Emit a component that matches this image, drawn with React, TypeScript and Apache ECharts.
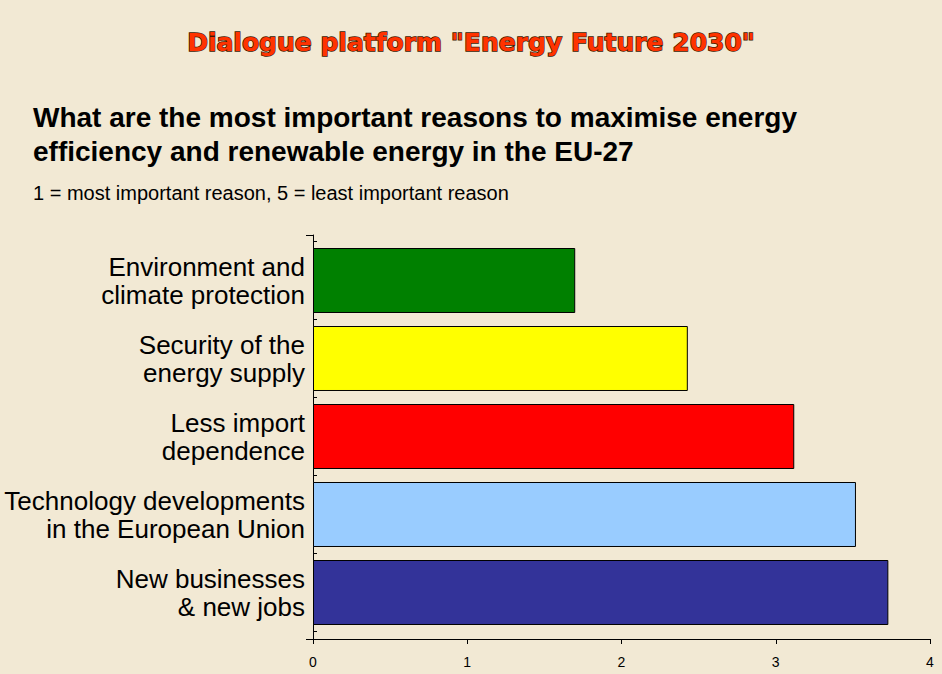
import React, { useEffect, useRef } from "react";
import * as echarts from "echarts";

const categories = [
  "Environment and\nclimate protection",
  "Security of the\nenergy supply",
  "Less import\ndependence",
  "Technology developments\nin the European Union",
  "New businesses\n& new jobs",
];
const values = [1.7, 2.43, 3.12, 3.52, 3.73];
const barColors = ["#008000", "#FFFF00", "#FF0000", "#99CCFF", "#333399"];
const headerText = 'Dialogue platform "Energy Future 2030"';
const titleText =
  "What are the most important reasons to maximise energy\nefficiency and renewable energy in the EU-27";
const noteText = "1 = most important reason, 5 = least important reason";

export default function App() {
  const ref = useRef<HTMLDivElement>(null);
  useEffect(() => {
    document.body.style.margin = "0";
    const chart = echarts.init(ref.current!, undefined, { renderer: "svg" });
    const font = "'Liberation Sans', Arial, sans-serif";
    chart.setOption({
      animation: false,
      backgroundColor: "#F2E9D4",
      textStyle: { fontFamily: font },
      title: [
        {
          text: headerText,
          left: "center",
          top: 25,
          textStyle: {
            fontFamily: "'DejaVu Sans', sans-serif",
            fontSize: 25,
            fontWeight: "bold",
            color: "#FF3300",
            textBorderColor: "#3a1800",
            textBorderWidth: 1.4,
          },
        },
        {
          text: titleText,
          left: 28,
          top: 95,
          textStyle: {
            fontFamily: font,
            fontSize: 28,
            fontWeight: "bold",
            color: "#000",
            lineHeight: 34,
          },
        },
        {
          text: noteText,
          left: 28,
          top: 178,
          textStyle: {
            fontFamily: font,
            fontSize: 20,
            fontWeight: "normal",
            color: "#000",
          },
        },
      ],
      grid: [
        { left: 313, right: 12, top: 235, bottom: 35, containLabel: false },
        { left: 313, right: 12, top: 241.5, bottom: 42.5, containLabel: false },
      ],
      xAxis: [
        {
          gridIndex: 0,
          type: "value",
          min: 0,
          max: 4,
          interval: 1,
          splitLine: { show: false },
          axisLine: { show: true, lineStyle: { color: "#000", width: 1 } },
          axisTick: { show: true, length: 5, lineStyle: { color: "#000" } },
          axisLabel: { color: "#000", fontSize: 14, margin: 16, fontFamily: font },
        },
        {
          gridIndex: 1,
          type: "value",
          min: 0,
          max: 4,
          interval: 1,
          show: false,
          splitLine: { show: false },
        },
      ],
      yAxis: [
        {
          gridIndex: 0,
          type: "value",
          min: 0,
          max: 1,
          interval: 1,
          splitLine: { show: false },
          axisLine: { show: true, lineStyle: { color: "#000", width: 1 } },
          axisTick: { show: true, length: 7, lineStyle: { color: "#000" } },
          axisLabel: { show: false },
        },
        {
          gridIndex: 1,
          type: "category",
          data: categories,
          inverse: true,
          axisLine: { show: false },
          axisTick: { show: true, inside: true, length: 4, lineStyle: { color: "#000" } },
          axisLabel: {
            color: "#000",
            fontSize: 26,
            lineHeight: 28,
            margin: 8,
            align: "right",
            fontFamily: font,
          },
        },
      ],
      series: [
        {
          type: "bar",
          xAxisIndex: 1,
          yAxisIndex: 1,
          data: values.map((v, i) => ({ value: v, itemStyle: { color: barColors[i] } })),
          barCategoryGap: "16.7%",
          itemStyle: { borderColor: "#000", borderWidth: 1 },
        },
      ],
    });
    return () => chart.dispose();
  }, []);
  return (
    <div
      ref={ref}
      style={{ position: "absolute", left: 0, top: 0, width: 942, height: 674 }}
    />
  );
}
